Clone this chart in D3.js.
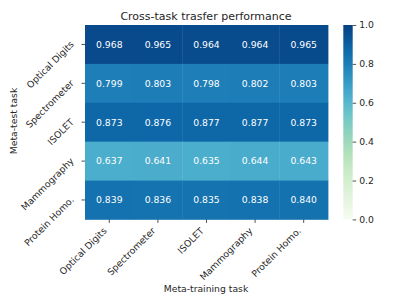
<!DOCTYPE html>
<html><head><meta charset="utf-8">
<script src="https://cdn.jsdelivr.net/npm/d3@7"></script>
<style>body{margin:0;background:#fff}text{font-family:"DejaVu Sans",sans-serif;fill:#262626}</style>
</head><body><svg id="c" width="399" height="305"></svg>
<script>
const trainTasks = ["Optical Digits","Spectrometer","ISOLET","Mammography","Protein Homo."];
const testTasks = ["Optical Digits","Spectrometer","ISOLET","Mammography","Protein Homo."];
const values = [
  [0.968,0.965,0.964,0.964,0.965],
  [0.799,0.803,0.798,0.802,0.803],
  [0.873,0.876,0.877,0.877,0.873],
  [0.637,0.641,0.635,0.644,0.643],
  [0.839,0.836,0.835,0.838,0.840]
];
const cbTicks = [0,0.2,0.4,0.6,0.8,1.0];

const FS = "9.25px";
const svg = d3.select("#c");
const L=85,R=328,T=25,B=219.4;
const x = d3.scaleBand().domain(trainTasks).range([L,R]);
const y = d3.scaleBand().domain(testTasks).range([T,B]);
const color = d3.scaleSequential(d3.interpolateGnBu).domain([0,1]);

const cells=[];
values.forEach((row,i)=>row.forEach((v,j)=>cells.push({r:testTasks[i],c:trainTasks[j],v})));
svg.append("g").selectAll("rect").data(cells).join("rect")
  .attr("x",d=>x(d.c)).attr("y",d=>y(d.r))
  .attr("width",x.bandwidth()+0.4).attr("height",y.bandwidth()+0.4)
  .attr("fill",d=>color(d.v));
svg.append("g").selectAll("text").data(cells).join("text")
  .attr("x",d=>x(d.c)+x.bandwidth()/2).attr("y",d=>y(d.r)+y.bandwidth()/2)
  .attr("text-anchor","middle").attr("dy","0.36em")
  .style("font-size",FS).style("fill","#fff")
  .text(d=>d3.format(".3f")(d.v));

const xa = svg.append("g").attr("transform",`translate(0,${B})`)
  .call(d3.axisBottom(x).tickSize(3.5).tickPadding(2));
xa.select(".domain").remove();
xa.selectAll("line").attr("stroke","#262626").attr("stroke-width",0.8);
xa.selectAll("text").style("font-size",FS).attr("text-anchor","end")
  .attr("x",0).attr("y",0).attr("dy",0)
  .attr("transform","translate(-2,12) rotate(-45)");

const ya = svg.append("g").attr("transform",`translate(${L},0)`)
  .call(d3.axisLeft(y).tickSize(3.5).tickPadding(3));
ya.select(".domain").remove();
ya.selectAll("line").attr("stroke","#262626").attr("stroke-width",0.8);
ya.selectAll("text").style("font-size",FS).attr("text-anchor","end")
  .attr("x",0).attr("y",0).attr("dy",0)
  .attr("transform","translate(-10.5,0.5) rotate(-45)");

// colorbar
const cbX=343.3,cbW=9.4,cbT=25,cbB=219.4;
const cy = d3.scaleLinear().domain([0,1]).range([cbB,cbT]);
const defs=svg.append("defs");
const grad=defs.append("linearGradient").attr("id","g").attr("x1",0).attr("y1",1).attr("x2",0).attr("y2",0);
d3.range(0,1.0001,0.05).forEach(t=>grad.append("stop").attr("offset",t).attr("stop-color",color(t)));
svg.append("rect").attr("x",cbX).attr("y",cbT).attr("width",cbW).attr("height",cbB-cbT).attr("fill","url(#g)");
const ca=svg.append("g").attr("transform",`translate(${cbX+cbW},0)`)
  .call(d3.axisRight(cy).tickValues(cbTicks).tickFormat(d3.format(".1f")).tickSize(3.5).tickPadding(3));
ca.select(".domain").remove();
ca.selectAll("line").attr("stroke","#262626").attr("stroke-width",0.8);
ca.selectAll("text").style("font-size",FS);

svg.append("text").attr("x",206).attr("y",20).attr("text-anchor","middle").style("font-size","11px").text("Cross-task trasfer performance");
svg.append("text").attr("x",206).attr("y",292).attr("text-anchor","middle").style("font-size",FS).text("Meta-training task");
svg.append("text").attr("transform","translate(17,121) rotate(-90)").attr("text-anchor","middle").style("font-size",FS).text("Meta-test task");
</script></body></html>
